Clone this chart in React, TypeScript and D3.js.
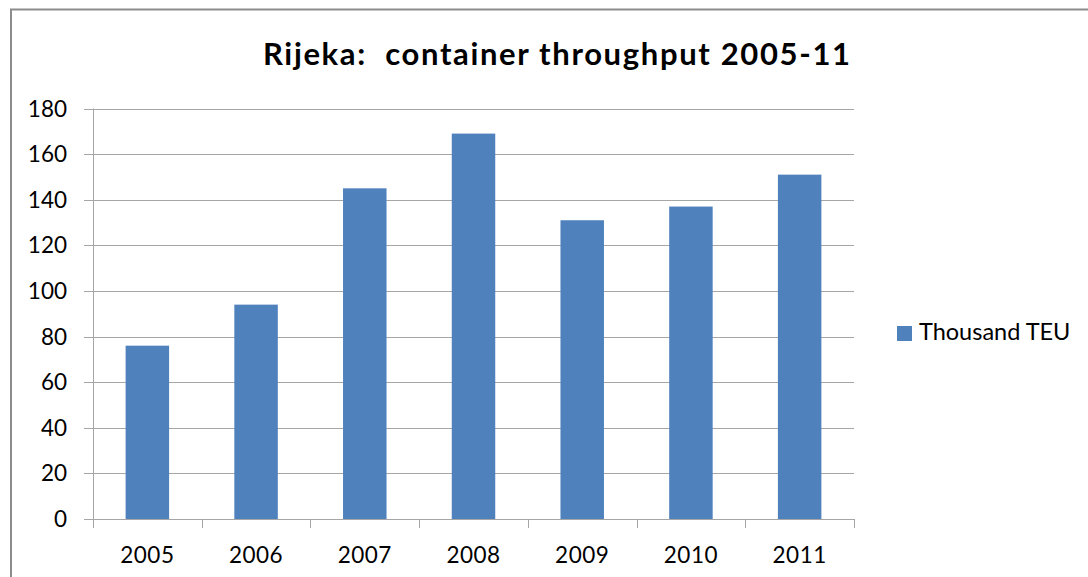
import React from "react";
import * as d3 from "d3";

const years = ["2005", "2006", "2007", "2008", "2009", "2010", "2011"];
const thousandTEU = [76, 94, 145, 169, 131, 137, 151];
const yTicks = [0, 20, 40, 60, 80, 100, 120, 140, 160, 180];
const title = "Rijeka:  container throughput 2005-11";
const seriesName = "Thousand TEU";

const W = 1088;
const H = 577;
const left = 93;
const right = 854;
const top = 108.5;
const bottom = 519;
const font = "Lato, 'Open Sans', sans-serif";
const gridColor = "#a6a6a6";
const barColor = "#4F81BD";

export default function App() {
  const x = d3.scaleBand<string>().domain(years).range([left, right]).paddingInner(0.6).paddingOuter(0.3);
  const y = d3.scaleLinear().domain([0, 180]).range([bottom, top]);
  const step = x.step();
  const boundaries = d3.range(years.length + 1).map((i) => left + i * step);

  return (
    <svg width={W} height={H} style={{ position: "absolute", left: 0, top: 0, background: "#fff" }}>
      <rect x={11} y={9.5} width={1200} height={700} fill="#fff" stroke="#8c8c8c" strokeWidth={2} />
      <text
        x={263}
        y={64.5}
        textLength={587}
        lengthAdjust="spacing"
        xmlSpace="preserve"
        style={{ whiteSpace: "pre" }}
        fontFamily={font}
        fontWeight="bold"
        fontSize={31}
        fill="#000"
      >
        {title}
      </text>
      {yTicks.map((t) => (
        <g key={t}>
          <line x1={84} x2={right} y1={Math.round(y(t)) + 0.5} y2={Math.round(y(t)) + 0.5} stroke={gridColor} strokeWidth={1} />
          <text x={67} y={y(t) + 8} textAnchor="end" fontFamily={font} fontSize={22.5} fill="#000">
            {t}
          </text>
        </g>
      ))}
      <line x1={left + 0.5} x2={left + 0.5} y1={top} y2={bottom} stroke={gridColor} strokeWidth={1} />
      {years.map((yr, i) => (
        <rect key={yr} x={x(yr)} y={y(thousandTEU[i])} width={x.bandwidth()} height={bottom - y(thousandTEU[i])} fill={barColor} />
      ))}
      <line x1={84} x2={right} y1={bottom + 0.5} y2={bottom + 0.5} stroke={gridColor} strokeWidth={1} />
      {boundaries.map((bx, i) => (
        <line key={i} x1={Math.round(bx) + 0.5} x2={Math.round(bx) + 0.5} y1={bottom} y2={bottom + 9} stroke={gridColor} strokeWidth={1} />
      ))}
      {years.map((yr) => (
        <text key={yr} x={(x(yr) as number) + x.bandwidth() / 2} y={563} textAnchor="middle" fontFamily={font} fontSize={22.5} letterSpacing={0.5} fill="#000">
          {yr}
        </text>
      ))}
      <rect x={897} y={326} width={15} height={15} fill={barColor} />
      <text x={919} y={340} fontFamily={font} fontSize={23.5} fill="#000">
        {seriesName}
      </text>
    </svg>
  );
}
